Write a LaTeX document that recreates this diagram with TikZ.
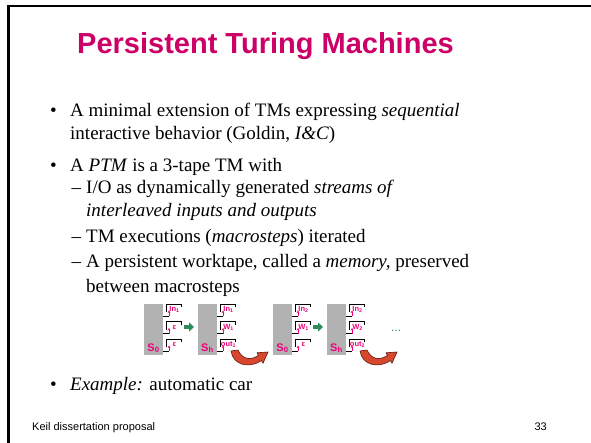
\documentclass[tikz,border=0pt]{standalone}
\usepackage{fontspec}
\setmainfont{Liberation Serif}
\newfontfamily\arialf{Liberation Sans}
\usetikzlibrary{arrows.meta}
\definecolor{titlepink}{HTML}{CC0066}
\definecolor{labpink}{HTML}{F0007A}
\definecolor{blockgrey}{HTML}{B2B2B2}
\definecolor{stepgreen}{HTML}{2E8B5A}
\definecolor{memred}{HTML}{D9482E}
\definecolor{memedge}{HTML}{5A1A10}

\tikzset{
  body/.style={anchor=base west, inner sep=0pt, font=\fontsize{19}{19}\selectfont},
  titletext/.style={anchor=base, inner sep=0pt, text=titlepink, font=\arialf\bfseries\fontsize{29}{29}\selectfont},
  foot/.style={inner sep=0pt, font=\arialf\fontsize{11}{11}\selectfont},
  greyblk/.style={anchor=north west, fill=blockgrey, draw=none, minimum width=19pt, minimum height=51pt, inner sep=0pt},
  statelab/.style={anchor=base, inner sep=0pt, text=labpink, font=\arialf\bfseries\fontsize{11}{11}\selectfont},
  tapelab/.style={anchor=base, inner sep=0pt, text=labpink, font=\arialf\bfseries\fontsize{7.5}{7.5}\selectfont},
  tapeline/.style={draw=black, line width=0.9pt},
  headline/.style={draw=black, line width=0.9pt},
  headarrow/.style={draw=labpink, line width=0.8pt, -{Stealth[length=2.5pt,width=2.5pt]}},
  garrow/.style={draw=stepgreen, line width=4pt, -{Triangle[length=5pt,width=9pt]}},
  memarrow/.style={fill=memred, draw=memedge, line width=0.6pt},
}

% one tape: #1 node name, #2 top y, #3 label
\newcommand{\TapeAt}[3]{%
  \draw[tapeline] (37,#2+3) -- (37,#2) -- (22,#2) -- (22,#2+8);
  \node[tapelab] (#1) at (30.5,#2+7.5) {#3};
  \draw[headline] (19,#2+12) -- (25,#2+12);
  \draw[headarrow] (25,#2+12) -- (25,#2+6.5);
}
% one machine: #1 name, #2 left x, #3 state, #4-#6 tape labels
\newcommand{\TMunit}[6]{%
  \begin{scope}[shift={(#2,0)}]
    \node[greyblk] (#1) at (0,304) {};
    \node[statelab] (#1-s) at (9.5,351) {#3};
    \TapeAt{#1-t1}{304}{#4}
    \TapeAt{#1-t2}{321.5}{#5}
    \TapeAt{#1-t3}{339}{#6}
    \coordinate (#1-out) at (40,327);
    \coordinate (#1-mem) at (35,350);
  \end{scope}}
\newcommand{\MemArrow}[1]{%
  \path[memarrow, shift={(#1)}] (-2,1) .. controls (0,15) and (16,19) .. (28.5,10.6)
    -- (30,13.2) -- (35,2) -- (24,2.8) -- (25.5,5.4)
    .. controls (17,11) and (9,9) .. (5,0) -- cycle;}

\begin{document}
\begin{tikzpicture}[x=1pt,y=-1pt]
\useasboundingbox (0,0) rectangle (591,443);
\fill[white] (0,0) rectangle (591,443);
\draw[line width=2.5pt] (8.5,444) -- (8.5,6) -- (592,6);

\node[titletext] (title) at (265.5,54) {Persistent Turing Machines};

\node[body] (bu1) at (50,117) {•};
\node[body] (l1) at (70,117) {A minimal extension of TMs expressing \textit{sequential}};
\node[body] (l2) at (70,140) {interactive behavior (Goldin, \textit{I\&C})};
\node[body] (bu2) at (50,172) {•};
\node[body] (l3) at (70,172) {A \textit{PTM} is a 3-tape TM with};
\node[body] (d1) at (71.5,194) {–};
\node[body] (l4) at (86,194) {I/O as dynamically generated \textit{streams of}};
\node[body] (l5) at (86,217) {\textit{interleaved inputs and outputs}};
\node[body] (d2) at (71.5,243) {–};
\node[body] (l6) at (86,243) {TM executions (\textit{macrosteps}) iterated};
\node[body] (d3) at (71.5,268) {–};
\node[body] (l7) at (86,268) {A persistent worktape, called a \textit{memory,} preserved};
\node[body] (l8) at (86,293) {between macrosteps};

\TMunit{tmA}{144}{S\textsubscript{0}}{In\textsubscript{1}}{ε}{ε}
\TMunit{tmB}{198}{S\textsubscript{h}}{In\textsubscript{1}}{W\textsubscript{1}}{out\textsubscript{1}}
\TMunit{tmC}{273}{S\textsubscript{0}}{In\textsubscript{2}}{W\textsubscript{1}}{ε}
\TMunit{tmD}{327}{S\textsubscript{h}}{In\textsubscript{2}}{W\textsubscript{2}}{out\textsubscript{2}}

\draw[garrow] (tmA-out) -- ([xshift=-4pt]tmB.west |- tmA-out);
\draw[garrow] (tmC-out) -- ([xshift=-4pt]tmD.west |- tmC-out);
\node[anchor=base west, inner sep=0pt, text=stepgreen, font=\arialf\fontsize{12}{12}\selectfont] (dots) at (391,331) {...};

\MemArrow{tmB-mem}
\MemArrow{tmD-mem}

\node[body] (bu3) at (50,390) {•};
\node[body] (l9) at (70,390) {\textit{Example:} automatic car};

\node[foot, anchor=base west] (footl) at (32,430) {Keil dissertation proposal};
\node[foot, anchor=base east] (footr) at (547,430) {33};
\end{tikzpicture}
\end{document}
